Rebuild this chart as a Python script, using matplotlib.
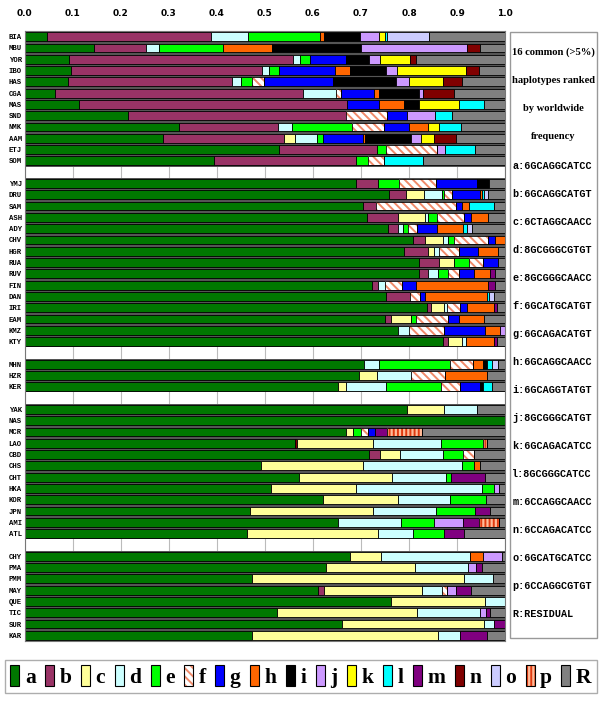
import numpy as np
import matplotlib
matplotlib.use("Agg")
import matplotlib.pyplot as plt
from matplotlib.patches import Patch, Rectangle

# haplotype codes, colours and sequences
haplotypes = list("abcdefghijklmnop") + ["R"]
colors = {
    'a': '#007800', 'b': '#993366', 'c': '#ffff99', 'd': '#ccffff',
    'e': '#00ff00', 'f': '#ffffff', 'g': '#0000ff', 'h': '#ff6600',
    'i': '#000000', 'j': '#cc99ff', 'k': '#ffff00', 'l': '#00ffff',
    'm': '#800080', 'n': '#800000', 'o': '#ccccff', 'p': '#ffbb99',
    'R': '#808080',
}
hatches = {'f': '\\\\\\\\', 'p': '||||'}
hatch_colors = {'f': '#f08a6a', 'p': '#e03a10'}
sequences = ["6GCAGGCATCC", "6GCAGGCATGT", "6CTAGGCAACC", "8GCGGGCGTGT",
             "8GCGGGCAACC", "6GCATGCATGT", "6GCAGACATGT", "6GCAGGCAACC",
             "6GCAGGTATGT", "8GCGGGCATGT", "6GCAGACATCC", "8GCGGGCATCC",
             "6CCAGGCAACC", "6CCAGACATCC", "6GCATGCATCC", "6CCAGGCGTGT",
             "RESIDUAL"]

# haplotype frequencies per population (left to right)
africa = {
    'BIA': [('a', .047), ('b', .341), ('d', .076), ('e', .150), ('h', .010), ('i', .073),
            ('j', .041), ('k', .012), ('l', .005), ('o', .087), ('R', .158)],
    'MBU': [('a', .145), ('b', .107), ('d', .027), ('e', .133), ('h', .102), ('i', .186),
            ('j', .220), ('n', .028), ('R', .052)],
    'YOR': [('a', .093), ('b', .465), ('d', .015), ('e', .020), ('g', .075), ('i', .048),
            ('j', .024), ('k', .062), ('n', .012), ('R', .186)],
    'IBO': [('a', .096), ('b', .398), ('d', .015), ('e', .020), ('g', .117), ('h', .032),
            ('i', .074), ('j', .022), ('k', .144), ('n', .027), ('R', .055)],
    'HAS': [('a', .091), ('b', .341), ('d', .018), ('e', .023), ('f', .025), ('g', .143),
            ('i', .131), ('j', .028), ('k', .070), ('n', .040), ('R', .090)],
    'CGA': [('a', .063), ('b', .516), ('d', .070), ('f', .009), ('g', .069), ('h', .011),
            ('i', .082), ('j', .010), ('n', .063), ('R', .107)],
    'MAS': [('a', .114), ('b', .557), ('g', .067), ('h', .051), ('i', .031), ('k', .084),
            ('l', .051), ('R', .045)],
    'SND': [('a', .215), ('b', .453), ('f', .087), ('g', .040), ('j', .058), ('l', .036),
            ('R', .111)],
    'NMK': [('a', .322), ('b', .206), ('d', .029), ('e', .124), ('f', .067), ('g', .052),
            ('h', .039), ('k', .024), ('l', .046), ('R', .091)],
    'AAM': [('a', .289), ('b', .251), ('c', .023), ('d', .046), ('e', .013), ('g', .082),
            ('h', .005), ('i', .095), ('j', .021), ('k', .026), ('n', .046), ('R', .103)],
    'ETJ': [('a', .530), ('b', .204), ('e', .018), ('f', .106), ('j', .017), ('l', .063),
            ('R', .062)],
    'SOM': [('a', .394), ('b', .296), ('e', .024), ('f', .033), ('l', .082), ('R', .171)],
}
europe = {
    'YMJ': [('a', .690), ('b', .045), ('e', .045), ('f', .076), ('g', .085), ('i', .026),
            ('R', .033)],
    'DRU': [('a', .759), ('b', .035), ('c', .038), ('d', .036), ('e', .005), ('f', .017),
            ('g', .057), ('h', .004), ('l', .004), ('o', .010), ('R', .035)],
    'SAM': [('a', .705), ('b', .027), ('f', .166), ('g', .013), ('h', .013), ('l', .052),
            ('R', .024)],
    'ASH': [('a', .712), ('b', .066), ('c', .056), ('d', .006), ('e', .018), ('f', .057),
            ('g', .014), ('h', .036), ('R', .035)],
    'ADY': [('a', .757), ('b', .019), ('d', .011), ('e', .010), ('f', .019), ('g', .042),
            ('h', .054), ('l', .008), ('o', .011), ('R', .069)],
    'CHV': [('a', .809), ('b', .025), ('c', .036), ('d', .012), ('e', .012), ('f', .071),
            ('g', .013), ('h', .022)],
    'HGR': [('a', .790), ('b', .050), ('c', .012), ('d', .011), ('f', .040), ('g', .041),
            ('h', .040), ('R', .016)],
    'RUA': [('a', .820), ('b', .043), ('c', .031), ('e', .030), ('f', .030), ('g', .031),
            ('R', .015)],
    'RUV': [('a', .820), ('b', .020), ('d', .021), ('e', .021), ('f', .021), ('g', .032),
            ('h', .034), ('m', .010), ('R', .021)],
    'FIN': [('a', .722), ('b', .013), ('d', .014), ('f', .036), ('g', .030), ('h', .150),
            ('m', .014), ('R', .021)],
    'DAN': [('a', .752), ('b', .050), ('f', .021), ('g', .011), ('h', .129), ('l', .004),
            ('o', .010), ('R', .023)],
    'IRI': [('a', .837), ('b', .008), ('c', .028), ('d', .006), ('f', .027), ('g', .014),
            ('h', .056), ('m', .006), ('R', .018)],
    'EAM': [('a', .749), ('b', .013), ('c', .042), ('e', .011), ('f', .065), ('g', .024),
            ('h', .051), ('R', .045)],
    'KMZ': [('a', .778), ('d', .021), ('f', .073), ('g', .085), ('h', .033), ('j', .010)],
    'KTY': [('a', .870), ('b', .010), ('c', .030), ('d', .009), ('h', .058), ('m', .006),
            ('R', .017)],
}
sw_asia = {
    'MHN': [('a', .707), ('d', .031), ('e', .148), ('f', .048), ('h', .019), ('i', .010),
            ('l', .009), ('o', .014), ('R', .014)],
    'HZR': [('a', .696), ('c', .037), ('d', .071), ('f', .071), ('h', .088), ('R', .037)],
    'KER': [('a', .652), ('c', .017), ('d', .083), ('e', .114), ('f', .040), ('g', .042),
            ('i', .006), ('l', .018), ('R', .028)],
}
east_asia = {
    'YAK': [('a', .795), ('c', .078), ('d', .068), ('R', .059)],
    'NAS': [('a', 1.0)],
    'MCR': [('a', .668), ('c', .015), ('e', .017), ('f', .014), ('g', .015), ('m', .025),
            ('p', .073), ('R', .173)],
    'LAO': [('a', .562), ('n', .004), ('c', .160), ('d', .141), ('e', .086), ('p', .010),
            ('R', .037)],
    'CBD': [('a', .717), ('b', .023), ('c', .041), ('d', .089), ('e', .043), ('f', .022),
            ('R', .065)],
    'CHS': [('a', .492), ('c', .212), ('d', .206), ('e', .026), ('h', .011), ('R', .053)],
    'CHT': [('a', .572), ('c', .193), ('d', .112), ('e', .010), ('m', .071), ('R', .042)],
    'HKA': [('a', .513), ('c', .176), ('d', .262), ('e', .025), ('j', .012), ('R', .012)],
    'KOR': [('a', .622), ('c', .155), ('d', .109), ('e', .074), ('R', .040)],
    'JPN': [('a', .469), ('c', .255), ('d', .132), ('e', .082), ('m', .031), ('R', .031)],
    'AMI': [('a', .652), ('d', .132), ('e', .067), ('j', .062), ('m', .033), ('p', .042),
            ('R', .012)],
    'ATL': [('a', .462), ('c', .274), ('d', .073), ('e', .063), ('m', .043), ('R', .085)],
}
america = {
    'CHY': [('a', .677), ('c', .065), ('d', .184), ('h', .028), ('j', .039), ('R', .007)],
    'PMA': [('a', .627), ('c', .186), ('d', .109), ('j', .018), ('m', .012), ('R', .048)],
    'PMM': [('a', .473), ('c', .442), ('d', .059), ('R', .026)],
    'MAY': [('a', .611), ('b', .012), ('c', .204), ('d', .041), ('f', .011), ('j', .019),
            ('m', .031), ('R', .071)],
    'QUE': [('a', .763), ('c', .194), ('d', .043)],
    'TIC': [('a', .525), ('c', .291), ('d', .131), ('j', .013), ('m', .009), ('R', .031)],
    'SUR': [('a', .660), ('c', .295), ('d', .022), ('m', .023)],
    'KAR': [('a', .473), ('c', .388), ('d', .044), ('m', .058), ('R', .037)],
}
groups = [africa, europe, sw_asia, east_asia, america]

plt.rcParams['hatch.linewidth'] = 1.4

fig = plt.figure(figsize=(6.02, 7.07), dpi=100)
ax = fig.add_axes([0.0407, 0.0934, 0.7985, 0.8628])

BAR_H = 0.78
row = 0
yticks, ylabels = [], []
for grp in groups:
    for pop, segs in grp.items():
        # dark band behind each population bar
        ax.barh(row, 1.0, height=1.0, color='#555555', linewidth=0, zorder=1)
        left = 0.0
        for hap, w in segs:
            if hap in hatches:
                ax.barh(row, w, left=left, height=BAR_H, color=colors[hap],
                        edgecolor=hatch_colors[hap], hatch=hatches[hap],
                        linewidth=0, zorder=2)
                ax.barh(row, w, left=left, height=BAR_H, fill=False,
                        edgecolor='black', linewidth=0.6, zorder=3)
            else:
                ax.barh(row, w, left=left, height=BAR_H, color=colors[hap],
                        edgecolor='black', linewidth=0.6, zorder=2)
            left += w
        yticks.append(row)
        ylabels.append(pop)
        row += 1
    row += 1  # empty spacer row between regions
n_rows = row - 1

ax.set_xlim(0, 1)
ax.set_ylim(n_rows - 0.5, -0.5)
ax.set_yticks(yticks)
ax.set_yticklabels(ylabels, fontsize=5.2, family='Liberation Mono', fontweight='bold')
ax.tick_params(axis='y', length=0, pad=2)
ax.xaxis.tick_top()
ax.set_xticks(np.arange(0, 1.01, 0.1))
ax.set_xticklabels([f"{v:.1f}" for v in np.arange(0, 1.01, 0.1)],
                   fontsize=6.5, fontweight='bold', family='DejaVu Sans')
ax.tick_params(axis='x', length=0, pad=9)
ax.grid(axis='x', color='#bbbbbb', linewidth=0.8, zorder=0)
ax.set_axisbelow(True)
for s in ax.spines.values():
    s.set_color('#777777')
    s.set_linewidth(0.8)

# right-hand description box
fig.patches.append(Rectangle((0.847, 0.0976), 0.145, 0.857, transform=fig.transFigure,
                             fill=False, edgecolor='#999999', linewidth=1.0))
header = ["16 common (>5%)", "haplotypes ranked", "by worldwide", "frequency"]
for i, line in enumerate(header):
    fig.text(0.9195, 0.926 - i * 0.0396, line, ha='center', va='center',
             fontsize=7.6, family='Liberation Serif', fontweight='bold')
for i, (hap, seq) in enumerate(zip(haplotypes, sequences)):
    fig.text(0.851, 0.765 - i * 0.0396, f"{hap}:{seq}", ha='left', va='center',
             fontsize=7.3, family='Liberation Mono', fontweight='bold')

# bottom colour legend
handles = []
for hap in haplotypes:
    if hap in hatches:
        handles.append((Patch(facecolor=colors[hap], edgecolor=hatch_colors[hap],
                              hatch=hatches[hap], linewidth=0),
                        Patch(fill=False, edgecolor='black', linewidth=0.8)))
    else:
        handles.append(Patch(facecolor=colors[hap], edgecolor='black', linewidth=0.8))
leg = fig.legend(handles, haplotypes, loc='center', ncol=len(haplotypes),
                 bbox_to_anchor=(0.0083, 0.014, 0.983, 0.059), mode='expand',
                 prop={'family': 'Liberation Serif', 'weight': 'bold', 'size': 15.5},
                 handlelength=0.42, handleheight=1.1, handletextpad=0.25,
                 columnspacing=0.3, borderaxespad=0, fancybox=False,
                 frameon=True, borderpad=0.25)
leg.get_frame().set_edgecolor('#999999')
leg.get_frame().set_linewidth(1.0)

fig.savefig("out.png", dpi=100)
